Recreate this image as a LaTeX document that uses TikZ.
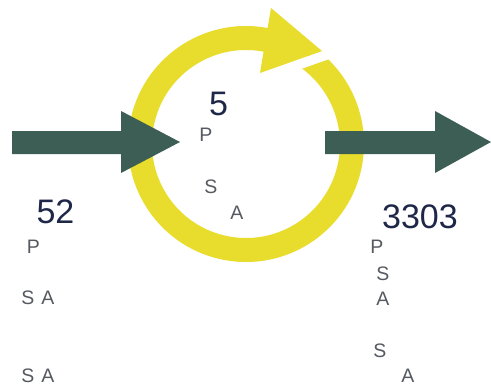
\documentclass[tikz,border=0pt]{standalone}
\usepackage{fontspec}
\setmainfont{Liberation Sans}
\definecolor{ringyellow}{RGB}{232,220,44}
\definecolor{arrowgreen}{RGB}{61,94,85}
\definecolor{numnavy}{RGB}{30,39,72}
\definecolor{lettergray}{RGB}{85,89,96}
\begin{document}
\begin{tikzpicture}[x=1pt,y=-1pt,
  bignum/.style={anchor=base,inner sep=0pt,text=numnavy,font=\fontsize{34}{34}\selectfont},
  letter/.style={anchor=base,inner sep=0pt,text=lettergray,font=\fontsize{19.5}{20}\selectfont},
  fatarrow/.style={fill=arrowgreen,draw=none}]
\useasboundingbox[fill=white] (0,0) rectangle (491,386);
\coordinate (C) at (246,144);
% yellow ring
\draw[ringyellow,line width=24pt] (C) ++(-77:106) arc[start angle=-77,end angle=-415,radius=106];
% gap cut parallel to arrowhead lower edge
\fill[white] (285,64.1) -- (345,42.9) -- (348.3,52.3) -- (288.3,73.5) -- cycle;
% ring arrowhead
\fill[ringyellow] (271,8) -- (322,51) -- (260,73) -- cycle;
% left dark arrow
\fill[fatarrow] (12,131) -- (121,131) -- (121,111) -- (180,142) -- (121,173) -- (121,154) -- (12,154) -- cycle;
% right dark arrow
\fill[fatarrow] (325,131) -- (435,131) -- (435,111) -- (491,142) -- (435,173) -- (435,154) -- (325,154) -- cycle;
% numbers
\node[bignum] (n5) at (218.5,115) {5};
\node[bignum] (n52) at (55.5,223) {52};
\node[bignum] (n3303) at (420,228) {3303};
% letters inside circle
\node[letter] (cP) at (206,141) {P};
\node[letter] (cS) at (211,193) {S};
\node[letter] (cA) at (237,219) {A};
% left letters
\node[letter] (lP) at (33.5,253) {P};
\node[letter] (lS1) at (28,304) {S};
\node[letter] (lA1) at (48,304) {A};
\node[letter] (lS2) at (28,382) {S};
\node[letter] (lA2) at (48,382) {A};
% right letters
\node[letter] (rP) at (377,253) {P};
\node[letter] (rS1) at (383,280) {S};
\node[letter] (rA1) at (383,305) {A};
\node[letter] (rS2) at (380,357) {S};
\node[letter] (rA2) at (408,382) {A};
\end{tikzpicture}
\end{document}
